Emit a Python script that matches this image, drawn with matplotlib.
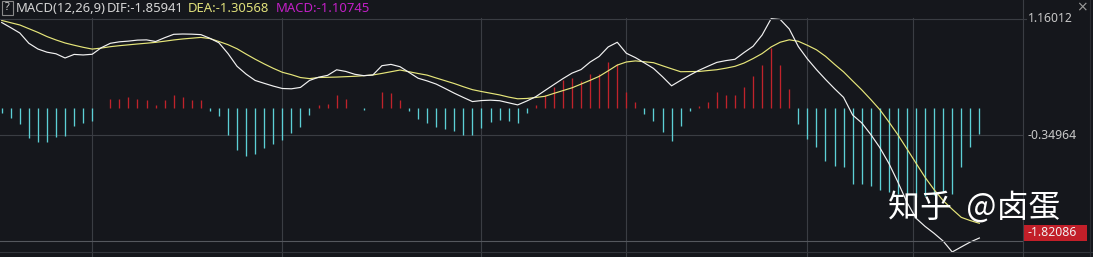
import matplotlib
matplotlib.use("Agg")
import matplotlib.pyplot as plt
from matplotlib.patches import Rectangle
from matplotlib.lines import Line2D
import matplotlib.transforms as mtransforms
import numpy as np

# MACD(12,26,9) values, one per bar
dif = [1.110, 1.043, 0.974, 0.841, 0.767, 0.726, 0.705, 0.651, 0.697, 0.690,
       0.699, 0.784, 0.841, 0.860, 0.869, 0.882, 0.885, 0.864, 0.913, 0.957,
       0.961, 0.959, 0.953, 0.906, 0.847, 0.708, 0.543, 0.442, 0.360, 0.323,
       0.287, 0.256, 0.252, 0.270, 0.360, 0.402, 0.426, 0.498, 0.477, 0.440,
       0.422, 0.431, 0.551, 0.568, 0.538, 0.464, 0.389, 0.354, 0.313, 0.255,
       0.195, 0.140, 0.087, 0.100, 0.105, 0.098, 0.071, 0.044, 0.094, 0.150,
       0.229, 0.307, 0.384, 0.455, 0.501, 0.598, 0.671, 0.794, 0.854, 0.712,
       0.656, 0.587, 0.516, 0.408, 0.291, 0.361, 0.428, 0.490, 0.543, 0.594,
       0.617, 0.634, 0.721, 0.802, 0.948, 1.160, 1.149, 1.026, 0.799, 0.639,
       0.501, 0.374, 0.254, 0.141, -0.087, -0.188, -0.338, -0.508, -0.712, -0.955,
       -1.216, -1.422, -1.528, -1.618, -1.718, -1.859, -1.794, -1.730, -1.678]

dea = [1.137, 1.107, 1.078, 1.030, 0.982, 0.928, 0.884, 0.845, 0.816, 0.789,
       0.766, 0.779, 0.797, 0.810, 0.821, 0.832, 0.842, 0.853, 0.868, 0.884,
       0.897, 0.907, 0.917, 0.902, 0.864, 0.823, 0.770, 0.701, 0.635, 0.574,
       0.517, 0.466, 0.435, 0.398, 0.384, 0.398, 0.401, 0.404, 0.409, 0.414,
       0.422, 0.431, 0.451, 0.473, 0.495, 0.473, 0.450, 0.429, 0.392, 0.356,
       0.320, 0.279, 0.241, 0.217, 0.195, 0.173, 0.145, 0.123, 0.127, 0.140,
       0.155, 0.193, 0.229, 0.265, 0.313, 0.362, 0.413, 0.485, 0.559, 0.599,
       0.613, 0.602, 0.590, 0.550, 0.511, 0.473, 0.475, 0.476, 0.488, 0.499,
       0.519, 0.543, 0.585, 0.643, 0.708, 0.794, 0.855, 0.886, 0.867, 0.815,
       0.757, 0.673, 0.569, 0.471, 0.354, 0.239, 0.114, -0.017, -0.176, -0.343,
       -0.525, -0.710, -0.893, -1.053, -1.194, -1.306, -1.411, -1.453, -1.488]

macd = [-0.061, -0.125, -0.203, -0.380, -0.442, -0.436, -0.367, -0.354, -0.223, -0.190,
        -0.164, 0.000, 0.114, 0.114, 0.142, 0.114, 0.107, 0.043, 0.107, 0.166,
        0.142, 0.107, 0.107, -0.031, -0.100, -0.345, -0.539, -0.617, -0.591, -0.510,
        -0.462, -0.404, -0.323, -0.238, -0.087, 0.043, 0.056, 0.169, 0.123, 0.000,
        -0.019, 0.000, 0.215, 0.194, 0.107, -0.031, -0.138, -0.194, -0.248, -0.264,
        -0.290, -0.345, -0.345, -0.255, -0.173, -0.151, -0.162, -0.186, -0.065, 0.047,
        0.166, 0.276, 0.366, 0.388, 0.357, 0.444, 0.444, 0.599, 0.573, 0.211,
        0.085, -0.074, -0.164, -0.303, -0.419, -0.229, -0.032, 0.030, 0.085, 0.208,
        0.166, 0.166, 0.276, 0.424, 0.556, 0.780, 0.560, 0.246, -0.203, -0.401,
        -0.507, -0.686, -0.744, -0.766, -0.982, -0.979, -1.005, -1.057, -1.083, -1.109,
        -1.135, -1.148, -1.135, -1.122, -1.083, -1.107, -0.763, -0.497, -0.336]

y_ticks = [1.16012, -0.34964]
y_tick_labels = ["1.16012", "-0.34964"]
month_breaks = [10, 31, 53, 69, 89, 100.65]
last_label = "-1.82086"

BG = "#15171c"
GRID = "#3a3d43"
W, H = 1093, 257


def fx(x):
    return x / W


def fy(y):
    return 1 - y / H


fig = plt.figure(figsize=(W / 100, H / 100), dpi=100, facecolor=BG)
ax = fig.add_axes([0, 0, 1023 / W, 1])
ax.set_facecolor(BG)
for s in ax.spines.values():
    s.set_visible(False)
ax.set_xticks([])
ax.set_yticks([])

x = np.arange(len(macd))
macd = np.array(macd)
ax.set_xlim(-0.188, 112.82)
ax.set_ylim(-1.924, 1.401)

# grid
for v in month_breaks:
    ax.axvline(v, ymin=0, ymax=fy(18), color=GRID, lw=0.8, zorder=0)
ax.axhline(y_ticks[1], color=GRID, lw=0.8, zorder=0)

# histogram
up = macd >= 0
ax.vlines(x[up], 0, macd[up], color="#c0232b", lw=0.95, zorder=2)
ax.vlines(x[~up], 0, macd[~up], color="#5ccfd5", lw=0.95, zorder=2)

ax.plot(x, dea, color="#e6e67a", lw=0.85, zorder=3)
ax.plot(x, dif, color="#f2f2f2", lw=0.85, zorder=4)

# frame lines
fig.add_artist(Line2D([0, fx(1026)], [fy(18.5), fy(18.5)], color=GRID, lw=0.8))
fig.add_artist(Line2D([0, fx(1023)], [fy(241), fy(241)], color="#55585e", lw=0.8))
fig.add_artist(Line2D([0, 1], [fy(252), fy(252)], color="#33363c", lw=0.8))
fig.add_artist(Line2D([fx(1023), fx(1023)], [0, 1], color=GRID, lw=0.8))
fig.add_artist(Line2D([fx(1090), fx(1090)], [0, 1], color="#2a2c31", lw=0.8))

# right axis labels
trans = mtransforms.blended_transform_factory(fig.transFigure, ax.transData)
for v, lab in zip(y_ticks, y_tick_labels):
    ax.text(fx(1028), v, lab, transform=trans, color="#c8c8c8", fontsize=8.8,
            va="center", ha="left", family="Noto Sans")
fig.add_artist(Rectangle((fx(1024), fy(240.5)), fx(63), 16 / H,
                         facecolor="#c21f29", edgecolor="none"))
fig.text(fx(1027), fy(232.5), last_label, color="#f0f0f0", fontsize=8.8,
         va="center", ha="left", family="Noto Sans")
fig.text(fx(1082), fy(7), "×", color="#9a9a9a", fontsize=10, va="center",
         ha="center", family="DejaVu Sans")

# header
fig.add_artist(Rectangle((fx(1.5), fy(15)), fx(11), 14 / H, facecolor="none",
                         edgecolor="#8a8a8a", lw=0.8))
fig.text(fx(7), fy(8), "?", color="#d0d0d0", fontsize=8, va="center",
         ha="center", family="Noto Sans")
hdr = [("MACD(12,26,9)", 16, "#d4d4d4"), ("DIF:-1.85941", 107, "#d4d4d4"),
       ("DEA:-1.30568", 188, "#e0e07a"), ("MACD:-1.10745", 276, "#c21fc6")]
for txt, px, col in hdr:
    fig.text(fx(px), fy(8.5), txt, color=col, fontsize=9.4, va="center",
             ha="left", family="Noto Sans")

# watermark
fig.text(fx(888), fy(208), "知乎  @卤蛋", color="#ffffff", fontsize=23,
         va="center", ha="left", family=["Noto Sans CJK SC", "DejaVu Sans"])

fig.savefig("out.png", dpi=100, facecolor=BG)
